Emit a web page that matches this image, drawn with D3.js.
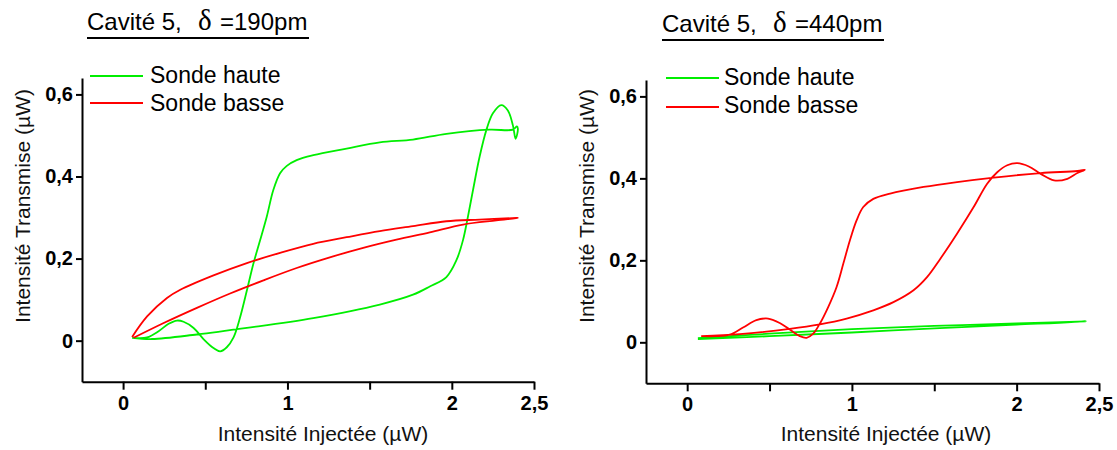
<!DOCTYPE html>
<html>
<head>
<meta charset="utf-8">
<script src="https://cdn.jsdelivr.net/npm/d3@7"></script>
<style>
  html, body { margin: 0; padding: 0; background: #fff; }
  svg { display: block; font-family: Arial, "Liberation Sans", sans-serif; }
</style>
</head>
<body>
<svg id="chart" width="1117" height="450"></svg>
<script>
// ---------------- DATA ----------------
const xTicks = [0, 0.5, 1, 1.5, 2, 2.5];
const xTickLabels = ["0", "", "1", "", "2", "2,5"];
const yTicks = [0, 0.2, 0.4, 0.6];
const yTickLabels = ["0", "0,2", "0,4", "0,6"];
const seriesNames = ["Sonde haute", "Sonde basse"];
const panelTitles = [["Cavité 5,", "δ", "=190pm"], ["Cavité 5,", "δ", "=440pm"]];
const xTitle = "Intensité Injectée (µW)";
const yTitle = "Intensité Transmise (µW)";

// Cavity 5, delta = 190 pm — Sonde haute (green)
const haute190 = [
  [0.055,0.007],[0.176,0.004],[0.449,0.015],[0.753,0.031],[1.157,0.055],[1.562,0.088],
  [1.764,0.112],[1.866,0.132],[1.967,0.155],[2.028,0.196],[2.068,0.245],[2.098,0.302],
  [2.129,0.367],[2.169,0.448],[2.210,0.513],[2.250,0.554],[2.301,0.574],[2.341,0.561],
  [2.372,0.524],[2.388,0.492],[2.402,0.516],[2.396,0.522],[2.372,0.514],[2.230,0.514],
  [1.967,0.504],[1.764,0.490],[1.562,0.483],[1.360,0.468],[1.157,0.452],[1.056,0.440],
  [0.996,0.426],[0.955,0.408],[0.914,0.367],[0.874,0.302],[0.834,0.245],[0.793,0.188],
  [0.753,0.122],[0.712,0.057],[0.672,0.008],[0.631,-0.016],[0.591,-0.026],[0.550,-0.018],
  [0.489,0.004],[0.429,0.031],[0.368,0.046],[0.328,0.049],[0.277,0.041],[0.216,0.023],
  [0.146,0.008],[0.064,0.007]
];
// Cavity 5, delta = 190 pm — Sonde basse (red)
const basse190 = [
  [0.055,0.009],[0.146,0.059],[0.267,0.104],[0.348,0.124],[0.550,0.159],[0.753,0.189],
  [0.955,0.214],[1.157,0.236],[1.360,0.252],[1.562,0.267],[1.764,0.279],[1.967,0.291],
  [2.169,0.295],[2.392,0.299],[2.402,0.299],[2.271,0.293],[2.068,0.283],[1.866,0.264],
  [1.663,0.246],[1.461,0.226],[1.258,0.203],[1.056,0.177],[0.854,0.147],[0.651,0.115],
  [0.449,0.080],[0.247,0.043],[0.064,0.007]
];
// Cavity 5, delta = 440 pm — Sonde haute (green)
const haute440 = [
  [0.065,0.008],[0.5,0.015],[1.0,0.024],[1.5,0.034],[2.0,0.043],[2.42,0.051],
  [2.0,0.046],[1.5,0.040],[1.0,0.032],[0.5,0.021],[0.065,0.010]
];
// Cavity 5, delta = 440 pm — Sonde basse (red)
const basse440 = [
  [0.085,0.015],[0.319,0.020],[0.623,0.033],[0.806,0.044],[0.968,0.058],[1.130,0.078],
  [1.252,0.098],[1.374,0.127],[1.456,0.159],[1.537,0.204],[1.638,0.265],[1.739,0.330],
  [1.821,0.387],[1.882,0.415],[1.943,0.432],[2.004,0.437],[2.074,0.429],[2.146,0.411],
  [2.227,0.395],[2.308,0.399],[2.369,0.413],[2.414,0.421],[2.369,0.418],[2.146,0.413],
  [1.861,0.402],[1.638,0.391],[1.435,0.379],[1.232,0.363],[1.130,0.350],[1.069,0.330],
  [1.029,0.298],[0.988,0.249],[0.948,0.192],[0.907,0.135],[0.856,0.086],[0.806,0.046],
  [0.765,0.021],[0.725,0.011],[0.684,0.015],[0.623,0.031],[0.562,0.047],[0.491,0.058],
  [0.420,0.054],[0.339,0.036],[0.258,0.019],[0.177,0.015],[0.085,0.015]
];

const xDomain = [-0.25, 2.5];
const yDomain = [-0.1, 0.64];
const colors = ["#00ee00", "#ff0000"];

// ---------------- LAYOUT ----------------
const panels = [
  { x0: 82, x1: 534, yb: 381.7, yt: 78, data: [haute190, basse190], title: panelTitles[0],
    tx: 87, deltaX: 198, restX: 220, tBase: 30, ulEnd: 309,
    legX: 90, legLineEnd: 143, legTextX: 150, legY: [76, 103], legBase: [83, 111],
    yTitleX: 22, xTitleX: 323 },
  { x0: 646, x1: 1099, yb: 383.3, yt: 80, data: [haute440, basse440], title: panelTitles[1],
    tx: 662, deltaX: 773, restX: 795, tBase: 32, ulEnd: 884,
    legX: 666, legLineEnd: 719, legTextX: 724, legY: [78, 107], legBase: [85, 113],
    yTitleX: 586, xTitleX: 886 }
];

const svg = d3.select("#chart");

panels.forEach(p => {
  const x = d3.scaleLinear().domain(xDomain).range([p.x0, p.x1]);
  const y = d3.scaleLinear().domain(yDomain).range([p.yb, p.yt]);
  const g = svg.append("g");

  // X axis
  const xAxis = d3.axisBottom(x).tickValues(xTicks)
    .tickFormat((d, i) => xTickLabels[i]).tickSizeInner(8).tickSizeOuter(0).tickPadding(6);
  const gx = g.append("g").attr("transform", `translate(0,${p.yb})`).call(xAxis);
  gx.select(".domain").attr("stroke", "#000").attr("stroke-width", 2);
  gx.selectAll(".tick line").attr("stroke", "#000").attr("stroke-width", 2);
  gx.selectAll(".tick text").attr("font-size", 20).attr("font-weight", "bold")
    .attr("fill", "#000").attr("font-family", "Arial, 'Liberation Sans', sans-serif");

  // Y axis
  const yAxis = d3.axisLeft(y).tickValues(yTicks)
    .tickFormat((d, i) => yTickLabels[i]).tickSizeInner(6).tickSizeOuter(0).tickPadding(3);
  const gy = g.append("g").attr("transform", `translate(${p.x0},0)`).call(yAxis);
  gy.select(".domain").attr("stroke", "#000").attr("stroke-width", 2);
  gy.selectAll(".tick line").attr("stroke", "#000").attr("stroke-width", 2);
  gy.selectAll(".tick text").attr("font-size", 20).attr("font-weight", "bold")
    .attr("fill", "#000").attr("font-family", "Arial, 'Liberation Sans', sans-serif");

  // Axis titles
  g.append("text").attr("x", p.xTitleX).attr("y", 441).attr("text-anchor", "middle")
    .attr("font-size", 21).attr("fill", "#111").text(xTitle);
  g.append("text").attr("transform", `translate(${p.yTitleX},${206}) rotate(-90)`)
    .attr("text-anchor", "middle").attr("dominant-baseline", "central")
    .attr("font-size", 21).attr("fill", "#111").text(yTitle);

  // Curves
  const line = d3.line().x(d => x(d[0])).y(d => y(d[1])).curve(d3.curveCatmullRom.alpha(0.5));
  p.data.forEach((s, i) => {
    g.append("path").datum(s).attr("d", line).attr("fill", "none")
      .attr("stroke", colors[i]).attr("stroke-width", 1.8).attr("stroke-linejoin", "round");
  });

  // Title
  g.append("text").attr("x", p.tx).attr("y", p.tBase).attr("font-size", 24).attr("fill", "#000").text(p.title[0]);
  g.append("text").attr("x", p.deltaX).attr("y", p.tBase).attr("font-size", 29)
    .attr("font-family", "'Liberation Serif', 'DejaVu Serif', serif").attr("fill", "#000").text(p.title[1]);
  g.append("text").attr("x", p.restX).attr("y", p.tBase).attr("font-size", 24).attr("fill", "#000").text(p.title[2]);
  g.append("line").attr("x1", p.tx).attr("x2", p.ulEnd).attr("y1", p.tBase + 8).attr("y2", p.tBase + 8)
    .attr("stroke", "#000").attr("stroke-width", 2);

  // Legend
  seriesNames.forEach((nm, i) => {
    g.append("line").attr("x1", p.legX).attr("x2", p.legLineEnd).attr("y1", p.legY[i]).attr("y2", p.legY[i])
      .attr("stroke", colors[i]).attr("stroke-width", 2);
    g.append("text").attr("x", p.legTextX).attr("y", p.legBase[i]).attr("font-size", 23)
      .attr("fill", "#000").text(nm);
  });
});
</script>
</body>
</html>
